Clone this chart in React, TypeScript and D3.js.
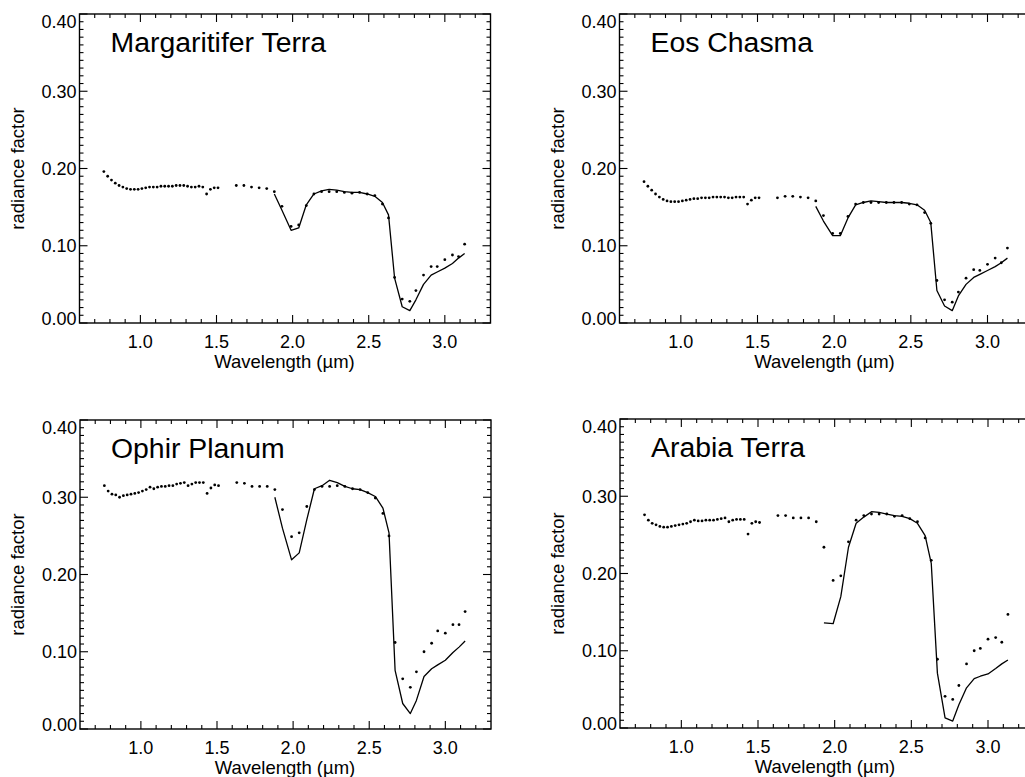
import React from 'react';
import * as d3 from 'd3';

// Wavelengths (µm) of the observed points
const DENSE_WL = [0.76, 0.785, 0.81, 0.835, 0.86, 0.885, 0.91, 0.935, 0.96, 0.985, 1.01, 1.035, 1.06, 1.085, 1.11, 1.135, 1.16, 1.185, 1.21, 1.235, 1.26, 1.285, 1.31, 1.335, 1.36, 1.385, 1.41, 1.435, 1.46, 1.485, 1.51];
const SPARSE_WL = [1.63, 1.68, 1.73, 1.78, 1.83, 1.88, 1.93, 1.99, 2.04, 2.09, 2.14, 2.19, 2.24, 2.29, 2.34, 2.39, 2.44, 2.49, 2.54, 2.59, 2.63, 2.67, 2.72, 2.77, 2.81, 2.86, 2.91, 2.95, 3.0, 3.05, 3.09, 3.13];
const MODEL_WL = [1.88, 1.93, 1.99, 2.04, 2.09, 2.14, 2.19, 2.24, 2.29, 2.34, 2.39, 2.44, 2.49, 2.54, 2.59, 2.63, 2.67, 2.72, 2.77, 2.81, 2.86, 2.91, 2.95, 3.0, 3.05, 3.09, 3.13];

// Margaritifer Terra
const MT_DENSE = [0.196, 0.190, 0.185, 0.181, 0.178, 0.176, 0.174, 0.173, 0.173, 0.173, 0.174, 0.175, 0.176, 0.176, 0.176, 0.177, 0.177, 0.177, 0.177, 0.178, 0.178, 0.178, 0.177, 0.176, 0.176, 0.177, 0.176, 0.167, 0.173, 0.175, 0.175];
const MT_SPARSE = [0.178, 0.178, 0.176, 0.175, 0.174, 0.170, 0.151, 0.125, 0.127, 0.152, 0.167, 0.170, 0.170, 0.170, 0.169, 0.168, 0.169, 0.167, 0.165, 0.154, 0.136, 0.059, 0.031, 0.028, 0.042, 0.062, 0.073, 0.073, 0.082, 0.088, 0.086, 0.102];
const MT_MODEL = [0.167, 0.146, 0.120, 0.123, 0.153, 0.167, 0.171, 0.173, 0.172, 0.170, 0.169, 0.169, 0.167, 0.164, 0.156, 0.140, 0.058, 0.021, 0.016, 0.030, 0.050, 0.062, 0.066, 0.071, 0.077, 0.084, 0.090];

// Eos Chasma
const EC_DENSE = [0.183, 0.177, 0.172, 0.167, 0.163, 0.160, 0.158, 0.157, 0.157, 0.157, 0.158, 0.159, 0.160, 0.161, 0.161, 0.162, 0.162, 0.162, 0.163, 0.163, 0.163, 0.163, 0.162, 0.162, 0.163, 0.163, 0.163, 0.154, 0.159, 0.162, 0.162];
const EC_SPARSE = [0.162, 0.164, 0.164, 0.163, 0.162, 0.158, 0.139, 0.116, 0.116, 0.138, 0.154, 0.156, 0.156, 0.156, 0.156, 0.156, 0.156, 0.154, 0.153, 0.143, 0.129, 0.055, 0.030, 0.027, 0.040, 0.058, 0.069, 0.068, 0.076, 0.084, 0.078, 0.097];
const EC_MODEL = [0.151, 0.132, 0.113, 0.113, 0.136, 0.153, 0.156, 0.158, 0.157, 0.156, 0.156, 0.156, 0.155, 0.153, 0.146, 0.130, 0.042, 0.022, 0.016, 0.035, 0.050, 0.059, 0.063, 0.068, 0.073, 0.078, 0.084];

// Ophir Planum
const OP_DENSE = [0.315, 0.308, 0.304, 0.303, 0.300, 0.302, 0.303, 0.304, 0.305, 0.306, 0.308, 0.310, 0.313, 0.311, 0.313, 0.314, 0.314, 0.315, 0.315, 0.317, 0.318, 0.319, 0.315, 0.317, 0.319, 0.319, 0.319, 0.305, 0.312, 0.316, 0.315];
const OP_SPARSE = [0.319, 0.318, 0.314, 0.314, 0.314, 0.310, 0.284, 0.249, 0.254, 0.288, 0.310, 0.314, 0.314, 0.315, 0.314, 0.311, 0.310, 0.306, 0.299, 0.279, 0.250, 0.112, 0.065, 0.054, 0.074, 0.100, 0.111, 0.127, 0.124, 0.135, 0.135, 0.152];
const OP_MODEL = [0.300, 0.260, 0.219, 0.228, 0.271, 0.311, 0.315, 0.322, 0.319, 0.314, 0.311, 0.310, 0.306, 0.301, 0.286, 0.254, 0.076, 0.033, 0.020, 0.037, 0.068, 0.078, 0.083, 0.089, 0.099, 0.106, 0.114];

// Arabia Terra
const AT_DENSE = [0.276, 0.269, 0.265, 0.263, 0.261, 0.260, 0.260, 0.261, 0.262, 0.263, 0.264, 0.265, 0.267, 0.269, 0.268, 0.268, 0.269, 0.269, 0.269, 0.270, 0.271, 0.272, 0.267, 0.269, 0.270, 0.270, 0.270, 0.251, 0.265, 0.267, 0.266];
const AT_SPARSE = [0.275, 0.275, 0.272, 0.272, 0.272, 0.267, 0.234, 0.191, 0.197, 0.241, 0.269, 0.275, 0.277, 0.277, 0.277, 0.274, 0.275, 0.271, 0.267, 0.246, 0.217, 0.089, 0.041, 0.037, 0.055, 0.083, 0.100, 0.103, 0.115, 0.117, 0.111, 0.147];
const AT_MODEL = [null, 0.136, 0.135, 0.170, 0.234, 0.265, 0.273, 0.280, 0.279, 0.277, 0.275, 0.274, 0.271, 0.265, 0.249, 0.213, 0.071, 0.013, 0.009, 0.030, 0.052, 0.064, 0.067, 0.070, 0.077, 0.083, 0.088];

const X_DOMAIN = [0.6, 3.3];
const Y_DOMAIN = [0, 0.4];
const X_TICK_LABELS = ['1.0', '1.5', '2.0', '2.5', '3.0'];
const Y_TICK_LABELS = ['0.00', '0.10', '0.20', '0.30', '0.40'];

const FONT = "'Liberation Sans', Arial, Helvetica, sans-serif";
const H = 309;

type PanelProps = {
  title: string;
  dense: number[];
  sparse: number[];
  model: (number | null)[];
  x0: number;
  y0: number;
  W: number;
};

function Panel({ title, dense, sparse, model, x0, y0, W }: PanelProps) {
  const x = d3.scaleLinear().domain(X_DOMAIN).range([0, W]);
  const y = d3.scaleLinear().domain(Y_DOMAIN).range([H, 0]);
  const xMinor = d3.range(7, 33).map((v) => v / 10);
  const yMinor = d3.range(0, 41).map((v) => v / 100);
  const line = d3
    .line<[number, number | null]>()
    .defined((d) => d[1] !== null)
    .x((d) => x(d[0]))
    .y((d) => y(d[1] as number));
  const modelPts: [number, number | null][] = MODEL_WL.map((w, i) => [w, model[i]]);
  const pts: [number, number][] = [
    ...DENSE_WL.map((w, i) => [w, dense[i]] as [number, number]),
    ...SPARSE_WL.map((w, i) => [w, sparse[i]] as [number, number]),
  ];
  const isMajorX = (v: number) => Math.abs(v * 2 - Math.round(v * 2)) < 1e-6;
  const isMajorY = (v: number) => Math.abs(v * 10 - Math.round(v * 10)) < 1e-6;
  return (
    <g transform={`translate(${x0},${y0})`}>
      {xMinor.map((v) => {
        const L = isMajorX(v) ? 8 : 4;
        return (
          <g key={'x' + v}>
            <line x1={x(v)} x2={x(v)} y1={H} y2={H - L} stroke="#000" strokeWidth={1.1} />
            <line x1={x(v)} x2={x(v)} y1={0} y2={L} stroke="#000" strokeWidth={1.1} />
          </g>
        );
      })}
      {yMinor.map((v) => {
        const L = isMajorY(v) ? 8 : 4;
        return (
          <g key={'y' + v}>
            <line x1={0} x2={L} y1={y(v)} y2={y(v)} stroke="#000" strokeWidth={1.1} />
            <line x1={W} x2={W - L} y1={y(v)} y2={y(v)} stroke="#000" strokeWidth={1.1} />
          </g>
        );
      })}
      <rect x={0} y={0} width={W} height={H} fill="none" stroke="#000" strokeWidth={1.4} />
      {X_TICK_LABELS.map((t) => (
        <text key={t} x={x(+t)} y={H + 25} textAnchor="middle" fontFamily={FONT} fontSize={18}>
          {t}
        </text>
      ))}
      {Y_TICK_LABELS.map((t, i) => {
        let cy = y(+t);
        if (i === 0) cy -= 5;
        if (i === Y_TICK_LABELS.length - 1) cy += 7;
        return (
          <text key={t} x={-3} y={cy + 6.5} textAnchor="end" fontFamily={FONT} fontSize={18}>
            {t}
          </text>
        );
      })}
      <text x={205} y={H + 45} textAnchor="middle" fontFamily={FONT} fontSize={18.5}>
        Wavelength (µm)
      </text>
      <text
        transform={`translate(${-56},${H / 2}) rotate(-90)`}
        textAnchor="middle"
        fontFamily={FONT}
        fontSize={18.5}
      >
        radiance factor
      </text>
      <text x={31} y={38} fontFamily={FONT} fontSize={28.4}>
        {title}
      </text>
      <path d={line(modelPts) || ''} fill="none" stroke="#000" strokeWidth={1.3} strokeLinejoin="round" />
      {pts.map((p, i) => (
        <circle key={i} cx={x(p[0])} cy={y(p[1])} r={1.4} fill="#000" />
      ))}
    </g>
  );
}

export default function App() {
  return (
    <svg
      width={1025}
      height={777}
      style={{ position: 'absolute', left: 0, top: 0, background: '#fff' }}
    >
      <rect x={0} y={0} width={1025} height={777} fill="#fff" />
      <Panel title="Margaritifer Terra" dense={MT_DENSE} sparse={MT_SPARSE} model={MT_MODEL} x0={79.5} y0={14} W={411} />
      <Panel title="Eos Chasma" dense={EC_DENSE} sparse={EC_SPARSE} model={EC_MODEL} x0={619.5} y0={14} W={414} />
      <Panel title="Ophir Planum" dense={OP_DENSE} sparse={OP_SPARSE} model={OP_MODEL} x0={80} y0={420} W={411} />
      <Panel title="Arabia Terra" dense={AT_DENSE} sparse={AT_SPARSE} model={AT_MODEL} x0={620} y0={419} W={414} />
    </svg>
  );
}
